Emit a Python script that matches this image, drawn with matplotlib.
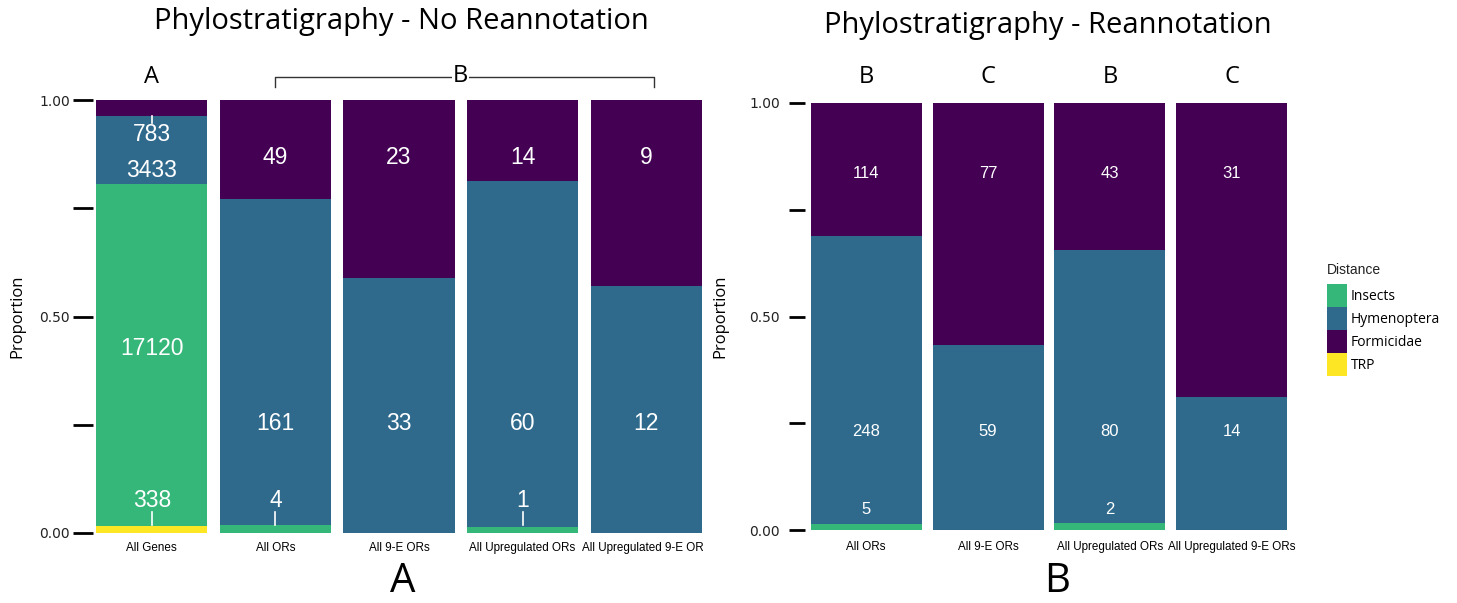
import matplotlib.pyplot as plt
import numpy as np
from matplotlib.patches import Patch
from matplotlib.transforms import Bbox

# data (counts per group)
left_groups = ['All Genes', 'All ORs', 'All 9-E ORs', 'All Upregulated ORs', 'All Upregulated 9-E ORs']
left_trp = [338, 0, 0, 0, 0]
left_insects = [17120, 4, 0, 1, 0]
left_hymen = [3433, 161, 33, 60, 12]
left_formic = [783, 49, 23, 14, 9]

right_groups = ['All ORs', 'All 9-E ORs', 'All Upregulated ORs', 'All Upregulated 9-E ORs']
right_trp = [0, 0, 0, 0]
right_insects = [5, 0, 2, 0]
right_hymen = [248, 59, 80, 14]
right_formic = [114, 77, 43, 31]
right_letters = ['B', 'C', 'B', 'C']

categories = ['TRP', 'Insects', 'Hymenoptera', 'Formicidae']
colors = {'Insects': '#35b779', 'Hymenoptera': '#2f6a8d', 'Formicidae': '#440154', 'TRP': '#fde725'}

SANS = ['Liberation Sans', 'DejaVu Sans']
TITLE = ['Open Sans', 'DejaVu Sans']

W, H = 1457, 603
fig = plt.figure(figsize=(W / 100, H / 100), dpi=100)


def px_axes(x0, y0, x1, y1):
    # pixel box (top-left origin) -> figure fraction
    return fig.add_axes([x0 / W, 1 - y1 / H, (x1 - x0) / W, (y1 - y0) / H])


def stacked(ax, groups, series, width):
    x = np.arange(len(groups))
    counts = np.array(series, dtype=float)
    props = counts / counts.sum(axis=0)
    bottom = np.zeros(len(groups))
    for cat, p in zip(categories, props):
        ax.bar(x, p, width, bottom=bottom, color=colors[cat], edgecolor='none')
        bottom += p
    return x, counts, props


def style(ax, outward, ticklen, pad):
    for s in ['top', 'right', 'bottom']:
        ax.spines[s].set_visible(False)
    ax.spines['left'].set_color('none')
    ax.spines['left'].set_position(('outward', outward))
    ax.set_ylim(0, 1)
    ax.set_yticks([0, 0.25, 0.5, 0.75, 1.0])
    ax.set_yticklabels(['0.00', '', '0.50', '', '1.00'], fontsize=10, color='#222222')
    ax.tick_params(axis='y', length=ticklen, width=2, pad=pad)
    ax.tick_params(axis='x', length=0)
    ax.set_ylabel('Proportion', fontsize=12, family=TITLE)


def lab(ax, x, y, s, fs):
    ax.text(x, y, s, color='white', ha='center', va='center', fontsize=fs, family=SANS)


# ---------- panel A ----------
axL = px_axes(95, 100, 703, 533)
xL, cL, pL = stacked(axL, left_groups, [left_trp, left_insects, left_hymen, left_formic], 0.9)
axL.set_xlim(-0.46, 4.46)
style(axL, 1.5, 14.4, 2)
axL.yaxis.set_label_coords(-0.115, 0.5)
axL.set_xticks(xL)
axL.set_xticklabels([])

fsL = 16.5
for i in xL:
    if i == 0:
        lab(axL, i, 0.92, f'{left_formic[i]}', fsL)
        axL.plot([i, i], [0.948, 0.963], color='white', lw=1.2)
        lab(axL, i, 0.838, f'{left_hymen[i]}', fsL)
        lab(axL, i, 0.427, f'{left_insects[i]}', fsL)
        lab(axL, i, 0.076, f'{left_trp[i]}', fsL)
        axL.plot([i, i], [0.018, 0.048], color='white', lw=1.2)
    else:
        lab(axL, i, 0.868, f'{left_formic[i]}', fsL)
        lab(axL, i, 0.254, f'{left_hymen[i]}', fsL)
        if left_insects[i] > 0:
            lab(axL, i, 0.076, f'{left_insects[i]}', fsL)
            axL.plot([i, i], [0.018, 0.048], color='white', lw=1.2)

clip = Bbox.from_extents(0, 0, 703, H)
for i, g in zip(xL, left_groups):
    t = axL.text(i, -0.035, g, ha='center', va='center', fontsize=8.4, family=SANS, clip_on=True)
    t.set_clip_box(clip)

# letters above panel A
axL.text(0, 1.053, 'A', ha='center', va='center', fontsize=17, family=TITLE, clip_on=False)
axL.plot([1, 1, 4.06, 4.06], [1.03, 1.053, 1.053, 1.03], color='#333333', lw=1, clip_on=False)
axL.text(2.5, 1.055, 'B', ha='center', va='center', fontsize=17, family=TITLE, clip_on=False,
         bbox=dict(facecolor='white', edgecolor='none', pad=0.5))

fig.text(401 / W, 1 - 22 / H, 'Phylostratigraphy - No Reannotation', ha='center', va='center', fontsize=21, family=TITLE)
fig.text(403 / W, 1 - 582 / H, 'A', ha='center', va='center', fontsize=29, family=TITLE)

# ---------- panel B ----------
axR = px_axes(810, 103, 1288, 530)
xR, cR, pR = stacked(axR, right_groups, [right_trp, right_insects, right_hymen, right_formic], 0.91)
axR.set_xlim(-0.46, 3.46)
style(axR, 3.6, 11.5, 6.5)
axR.yaxis.set_label_coords(-0.17, 0.5)
axR.set_xticks(xR)
axR.set_xticklabels([])

fsR = 12
for i in xR:
    lab(axR, i, 0.834, f'{right_formic[i]}', fsR)
    lab(axR, i, 0.23, f'{right_hymen[i]}', fsR)
    if right_insects[i] > 0:
        lab(axR, i, 0.047, f'{right_insects[i]}', fsR)
    axR.text(i, -0.04, right_groups[i], ha='center', va='center', fontsize=8.4, family=SANS)
    axR.text(i, 1.06, right_letters[i], ha='center', va='center', fontsize=17, family=TITLE, clip_on=False)

fig.text(1048 / W, 1 - 25 / H, 'Phylostratigraphy - Reannotation', ha='center', va='center', fontsize=21, family=TITLE)
fig.text(1057 / W, 1 - 582 / H, 'B', ha='center', va='center', fontsize=29, family=TITLE)

# legend
fig.text(1327 / W, 1 - 270 / H, 'Distance', ha='left', va='center', fontsize=10, family=SANS, color='#222222')
handles = [Patch(facecolor=colors[c], edgecolor='none') for c in ['Insects', 'Hymenoptera', 'Formicidae', 'TRP']]
fig.legend(handles, ['Insects', 'Hymenoptera', 'Formicidae', 'TRP'],
           loc='upper left', bbox_to_anchor=(1317 / W, 1 - 274 / H), frameon=False,
           handlelength=1.45, handleheight=2.17, labelspacing=0.0, handletextpad=0.3,
           prop={'family': TITLE, 'size': 10}, borderpad=0.2)

fig.savefig('out.png', dpi=100)
